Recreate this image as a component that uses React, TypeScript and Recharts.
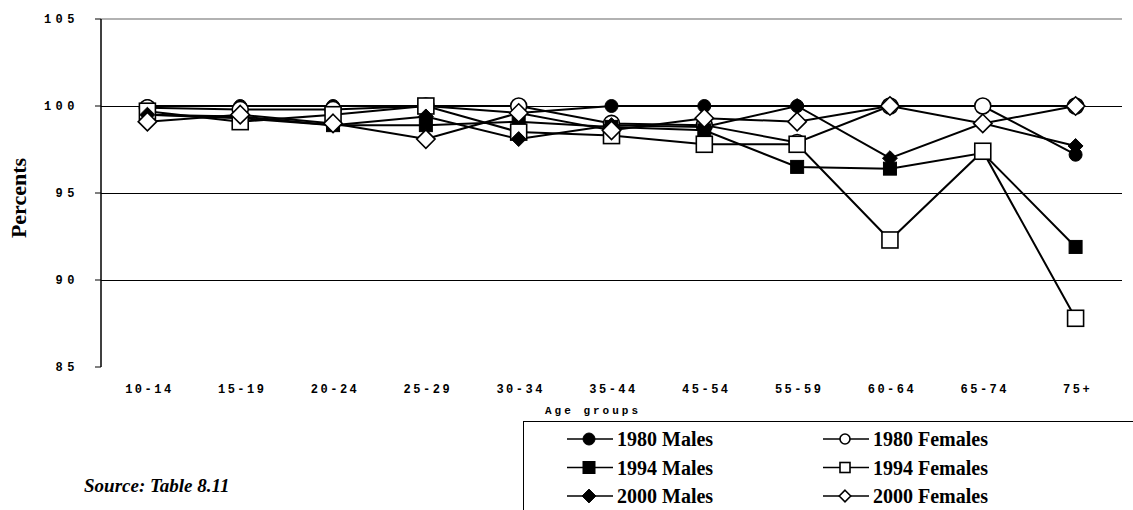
import React from 'react';
import { LineChart, Line, XAxis, YAxis, ReferenceLine } from 'recharts';

const ageGroups = ['10-14', '15-19', '20-24', '25-29', '30-34', '35-44', '45-54', '55-59', '60-64', '65-74', '75+'];

const males1980 = [100, 100, 100, 100, 99.6, 100, 100, 100, 100, 100, 97.2];
const females1980 = [99.9, 99.8, 99.8, 100, 100, 99.0, 98.9, 97.9, 100, 100, 100];
const males1994 = [99.5, 99.3, 98.9, 98.9, 99.1, 98.8, 98.6, 96.5, 96.4, 97.3, 91.9];
const females1994 = [99.7, 99.1, 99.5, 100, 98.5, 98.3, 97.8, 97.8, 92.3, 97.4, 87.8];
const males2000 = [99.5, 99.4, 98.9, 99.4, 98.1, 98.9, 98.8, 100, 97.0, 99.0, 97.7];
const females2000 = [99.1, 99.5, 99.0, 98.1, 99.6, 98.6, 99.3, 99.1, 100, 99.0, 100];

const yTicks = [85, 90, 95, 100, 105];
const gridValues = [90, 95, 100];
const boundaryTicks = [0, 1, 2, 3, 4, 5, 6, 7, 8, 9, 10, 11];

type Shape = 'circle' | 'square' | 'diamond';

const series: { key: string; name: string; shape: Shape; filled: boolean; values: number[] }[] = [
  { key: 'm1980', name: '1980 Males', shape: 'circle', filled: true, values: males1980 },
  { key: 'f1980', name: '1980 Females', shape: 'circle', filled: false, values: females1980 },
  { key: 'm1994', name: '1994 Males', shape: 'square', filled: true, values: males1994 },
  { key: 'f1994', name: '1994 Females', shape: 'square', filled: false, values: females1994 },
  { key: 'm2000', name: '2000 Males', shape: 'diamond', filled: true, values: males2000 },
  { key: 'f2000', name: '2000 Females', shape: 'diamond', filled: false, values: females2000 },
];

const data = ageGroups.map((age, i) => {
  const row: any = { age };
  series.forEach(s => { row[s.key] = s.values[i]; });
  return row;
});

const MONO = '"Liberation Mono", "DejaVu Sans Mono", monospace';
const SERIF = '"Liberation Serif", "DejaVu Serif", serif';

function Marker({ cx, cy, shape, filled, size }: { cx: number; cy: number; shape: Shape; filled: boolean; size: number }) {
  const fill = filled ? '#000' : '#fff';
  const sw = filled ? 1 : 1.6;
  const h = size / 2;
  if (shape === 'circle') {
    return <circle cx={cx} cy={cy} r={h} fill={fill} stroke="#000" strokeWidth={sw} />;
  }
  if (shape === 'square') {
    return <rect x={cx - h} y={cy - h} width={size} height={size} fill={fill} stroke="#000" strokeWidth={sw} />;
  }
  const d = h * 1.15;
  return (
    <polygon
      points={`${cx},${cy - d} ${cx + d},${cy} ${cx},${cy + d} ${cx - d},${cy}`}
      fill={fill}
      stroke="#000"
      strokeWidth={sw}
    />
  );
}

const YTick = ({ y, payload }: any) => (
  <text x={79} y={y} dy={4} textAnchor="end" fontFamily={MONO} fontWeight="bold" fontSize={12} letterSpacing={4.5} fill="#000">
    {payload.value}
  </text>
);

const XTick = ({ x, y, payload }: any) => (
  <text x={x + 2} y={y} dy={18} textAnchor="middle" fontFamily={MONO} fontWeight="bold" fontSize={12} letterSpacing={2.5} fill="#000">
    {payload.value}
  </text>
);

function LegendBox() {
  const rows = [0, 1, 2];
  return (
    <div style={{ position: 'absolute', left: 523, top: 421, width: 640, height: 120, border: '1px solid #000', background: '#fff', boxSizing: 'border-box' }}>
      <svg width={640} height={100} style={{ position: 'absolute', left: -1, top: -1 }}>
        {rows.map(r => [0, 1].map(c => {
          const s = series[r * 2 + c];
          const x0 = c === 0 ? 44 : 300;
          const cy = 18 + r * 28.5;
          return (
            <g key={s.key}>
              <line x1={x0} x2={x0 + 46} y1={cy} y2={cy} stroke="#000" strokeWidth={1.5} />
              <Marker cx={x0 + 22} cy={cy} shape={s.shape} filled={s.filled} size={s.filled ? 12 : 10} />
              <text x={x0 + 50} y={cy} dy={7} fontFamily={SERIF} fontWeight="bold" fontSize={20} fill="#000">{s.name}</text>
            </g>
          );
        }))}
      </svg>
    </div>
  );
}

export default function App() {
  return (
    <div style={{ position: 'absolute', left: 0, top: 0, width: 1133, height: 510, background: '#fff', overflow: 'hidden' }}>
      <LineChart width={1133} height={510} data={data} margin={{ top: 19, right: 11, left: 0, bottom: 113 }}>
        <XAxis
          xAxisId="grid"
          type="number"
          domain={[0, 11]}
          ticks={boundaryTicks}
          tick={false}
          height={0}
          axisLine={{ stroke: '#000', strokeWidth: 1.5 }}
          tickLine={{ stroke: '#000' }}
          tickSize={6}
        />
        <XAxis
          xAxisId="cat"
          dataKey="age"
          scale="band"
          height={30}
          axisLine={false}
          tickLine={false}
          tick={<XTick />}
          interval={0}
        />
        <YAxis
          yAxisId="left"
          width={101}
          domain={[85, 105]}
          ticks={yTicks}
          interval={0}
          tick={<YTick />}
          axisLine={{ stroke: '#000', strokeWidth: 1.5 }}
          tickLine={{ stroke: '#000' }}
          tickSize={6}
          label={({ viewBox }: any) => {
            const cy = viewBox.y + viewBox.height / 2 + 5;
            return (
              <text
                x={18}
                y={cy}
                transform={`rotate(-90, 18, ${cy})`}
                textAnchor="middle"
                dy={8}
                fontFamily={SERIF}
                fontWeight="bold"
                fontSize={22}
                fill="#000"
              >
                Percents
              </text>
            );
          }}
        />
        <ReferenceLine xAxisId="grid" yAxisId="left" y={105} stroke="#999" strokeWidth={1.5} />
        <ReferenceLine xAxisId="grid" yAxisId="left" x={11} stroke="#999" strokeWidth={2} />
        {gridValues.map(v => (
          <ReferenceLine key={v} xAxisId="cat" yAxisId="left" y={v} stroke="#000" strokeWidth={1} shapeRendering="crispEdges" />
        ))}
        {series.map(s => (
          <Line
            key={s.key}
            xAxisId="cat"
            yAxisId="left"
            dataKey={s.key}
            name={s.name}
            stroke="#000"
            strokeWidth={2}
            isAnimationActive={false}
            dot={(p: any) => (
              <Marker key={`${s.key}-${p.index}`} cx={p.cx} cy={p.cy} shape={s.shape} filled={s.filled} size={s.filled ? 13 : 16} />
            )}
            activeDot={false}
          />
        ))}
      </LineChart>
      <div style={{ position: 'absolute', left: 545, top: 405, fontFamily: MONO, fontWeight: 'bold', fontSize: 11, letterSpacing: 3 }}>
        Age groups
      </div>
      <LegendBox />
      <div style={{ position: 'absolute', left: 84, top: 475, fontFamily: SERIF, fontWeight: 'bold', fontStyle: 'italic', fontSize: 19 }}>
        Source: Table 8.11
      </div>
    </div>
  );
}
